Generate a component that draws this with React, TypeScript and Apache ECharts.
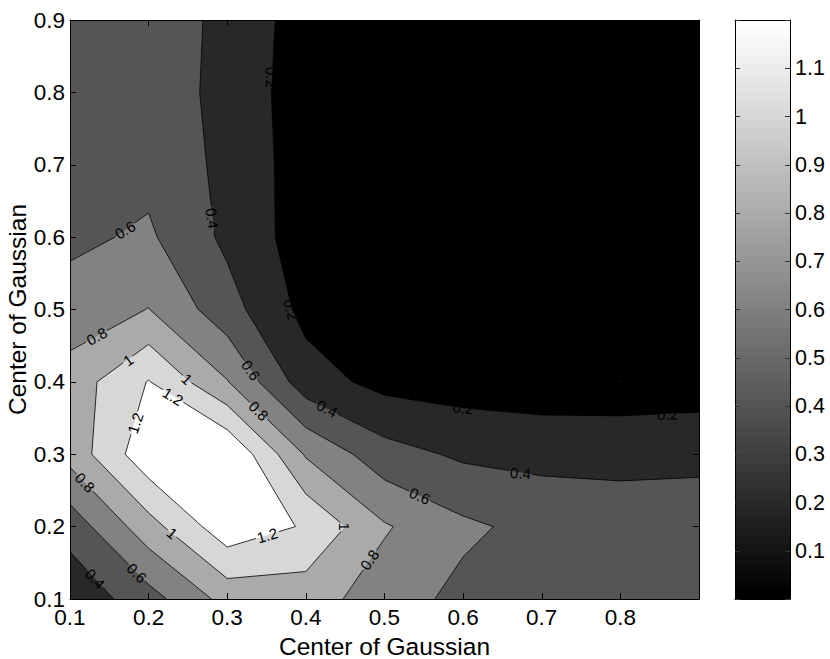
import React, { useEffect, useRef } from "react";
import * as echarts from "echarts";

// Grid of sample positions (both axes)
const gridX = [0.1, 0.2, 0.3, 0.4, 0.5, 0.6, 0.7, 0.8, 0.9];
const gridY = [0.1, 0.2, 0.3, 0.4, 0.5, 0.6, 0.7, 0.8, 0.9];

// Sampled surface values, one row per y (x = 0.1 ... 0.9)
const zAtY01 = [0.25, 0.52, 0.87, 0.89, 0.7, 0.544, 0.5, 0.48, 0.48];
const zAtY02 = [0.48, 0.92, 1.33, 1.18, 0.82, 0.64, 0.536, 0.52, 0.52];
const zAtY03 = [0.87, 1.34, 1.4, 0.78, 0.48, 0.367, 0.342, 0.33, 0.344];
const zAtY04 = [0.89, 1.21, 0.81, 0.29, 0.137, 0.106, 0.08, 0.085, 0.096];
const zAtY05 = [0.68, 0.805, 0.48, 0.14, 0.06, 0.04, 0.03, 0.03, 0.04];
const zAtY06 = [0.56, 0.63, 0.357, 0.1, 0.04, 0.02, 0.01, 0.01, 0.02];
const zAtY07 = [0.52, 0.54, 0.35, 0.1, 0.03, 0.01, 0.0, 0.0, 0.01];
const zAtY08 = [0.5, 0.53, 0.33, 0.098, 0.03, 0.01, 0.0, 0.0, 0.01];
const zAtY09 = [0.5, 0.53, 0.342, 0.11, 0.04, 0.02, 0.01, 0.01, 0.02];
const zRows = [zAtY01, zAtY02, zAtY03, zAtY04, zAtY05, zAtY06, zAtY07, zAtY08, zAtY09];

const contourLevels = [0.2, 0.4, 0.6, 0.8, 1.0, 1.2];
const colorMin = 0;
const colorMax = 1.2;

// inline contour labels
const labelText = ["0.2", "0.2", "0.2", "0.2", "0.4", "0.4", "0.4", "0.4", "0.6", "0.6", "0.6", "0.6",
  "0.8", "0.8", "0.8", "0.8", "1", "1", "1", "1", "1.2", "1.2", "1.2"];
const labelX = [0.356, 0.381, 0.6, 0.86, 0.281, 0.427, 0.673, 0.132, 0.17, 0.33, 0.545, 0.185,
  0.134, 0.34, 0.119, 0.481, 0.174, 0.249, 0.23, 0.449, 0.231, 0.183, 0.351];
const labelY = [0.821, 0.5, 0.364, 0.355, 0.626, 0.363, 0.274, 0.128, 0.61, 0.416, 0.2425, 0.136,
  0.463, 0.36, 0.261, 0.154, 0.43, 0.404, 0.191, 0.2, 0.38, 0.343, 0.188];
const labelAngle = [-88, -75, -6, 2, -83, -27, -3, -47, 31, -56, -25, -45,
  29, -44, -46, 55, 35, -43, -40, -90, -31, 72, 16];

const colorbarTicks = [0.1, 0.2, 0.3, 0.4, 0.5, 0.6, 0.7, 0.8, 0.9, 1.0, 1.1];
const colormapSize = 64;

const axisTitle = "Center of Gaussian";

const FONT = "'Liberation Sans', Arial, Helvetica, sans-serif";

// compound polygon shape: many sub-polygons in one path (no seams between cells)
const MultiPoly = (echarts as any).graphic.extendShape({
  shape: { polys: [] as number[][][] },
  buildPath(ctx: any, shape: any) {
    const polys = shape.polys || [];
    for (const poly of polys) {
      if (!poly || poly.length < 3) continue;
      ctx.moveTo(poly[0][0], poly[0][1]);
      for (let k = 1; k < poly.length; k++) ctx.lineTo(poly[k][0], poly[k][1]);
      ctx.closePath();
    }
  },
});
(echarts as any).graphic.registerShape("multiPoly", MultiPoly);

function grayOf(v: number): string {
  let idx = Math.floor(((v - colorMin) / (colorMax - colorMin)) * colormapSize);
  if (idx > colormapSize - 1) idx = colormapSize - 1;
  if (idx < 0) idx = 0;
  const g = Math.round((idx / (colormapSize - 1)) * 255);
  return `rgb(${g},${g},${g})`;
}

type P = [number, number, number, boolean];

function clipAbove(poly: P[], level: number): P[] {
  const out: P[] = [];
  const n = poly.length;
  for (let k = 0; k < n; k++) {
    const a = poly[k];
    const b = poly[(k + 1) % n];
    const aIn = a[2] >= level;
    const bIn = b[2] >= level;
    if (aIn) out.push(a);
    if (aIn !== bIn) {
      const t = (level - a[2]) / (b[2] - a[2]);
      out.push([a[0] + t * (b[0] - a[0]), a[1] + t * (b[1] - a[1]), level, true]);
    }
  }
  return out;
}

function cellPoly(i: number, j: number): P[] {
  return [
    [gridX[i], gridY[j], zRows[j][i], false],
    [gridX[i + 1], gridY[j], zRows[j][i + 1], false],
    [gridX[i + 1], gridY[j + 1], zRows[j + 1][i + 1], false],
    [gridX[i], gridY[j + 1], zRows[j + 1][i], false],
  ];
}

function textWidth(t: string, size: number): number {
  let w = 0;
  for (const ch of t) w += ch === "." ? 0.278 : 0.556;
  return w * size;
}

const cellData: number[][] = [];
for (let j = 0; j < gridY.length - 1; j++) {
  for (let i = 0; i < gridX.length - 1; i++) {
    cellData.push([gridX[i], gridY[j], i, j]);
  }
}
const labelData = labelX.map((x, k) => [x, labelY[k]]);

const LABEL_SIZE = 15;

export default function App() {
  const ref = useRef<HTMLDivElement>(null);
  useEffect(() => {
    if (!ref.current) return;
    const chart = echarts.init(ref.current, undefined, { renderer: "svg" });

    const fillRender = (params: any, api: any) => {
      const children: any[] = [];
      const toPts = (ps: P[]) => ps.map((p) => api.coord([p[0], p[1]]));
      const allLevels = [-Infinity, ...contourLevels];
      allLevels.forEach((L) => {
        const polys: number[][][] = [];
        for (let j = 0; j < gridY.length - 1; j++) {
          for (let i = 0; i < gridX.length - 1; i++) {
            const poly = cellPoly(i, j);
            const c = L === -Infinity ? poly : clipAbove(poly, L);
            if (c.length >= 3) polys.push(toPts(c));
          }
        }
        if (polys.length) {
          children.push({
            type: "multiPoly",
            shape: { polys },
            style: { fill: grayOf(L === -Infinity ? colorMin : L), stroke: null },
          });
        }
      });
      return { type: "group", children };
    };

    const lineRender = (params: any, api: any) => {
      const i = api.value(2);
      const j = api.value(3);
      const poly = cellPoly(i, j);
      const children: any[] = [];
      const holesAll = labelText.map((t, k) => {
        const c = api.coord([labelX[k], labelY[k]]);
        return { level: parseFloat(t), cx: c[0], cy: c[1], r: textWidth(t, LABEL_SIZE) / 2 + 1.5 };
      });
      contourLevels.forEach((L) => {
        const c = clipAbove(poly, L);
        const n = c.length;
        if (n < 3) return;
        const holes = holesAll.filter((h) => Math.abs(h.level - L) < 1e-6);
        for (let k = 0; k < n; k++) {
          const a = c[k];
          const b = c[(k + 1) % n];
          if (!(a[3] && b[3])) continue;
          const pa = api.coord([a[0], a[1]]);
          const pb = api.coord([b[0], b[1]]);
          let keep: number[][] = [[0, 1]];
          const dx = pb[0] - pa[0];
          const dy = pb[1] - pa[1];
          holes.forEach((h) => {
            const fx = pa[0] - h.cx;
            const fy = pa[1] - h.cy;
            const A = dx * dx + dy * dy;
            if (A < 1e-9) return;
            const B = 2 * (fx * dx + fy * dy);
            const C = fx * fx + fy * fy - h.r * h.r;
            const disc = B * B - 4 * A * C;
            if (disc <= 0) return;
            const s = Math.sqrt(disc);
            const t1 = (-B - s) / (2 * A);
            const t2 = (-B + s) / (2 * A);
            const nk: number[][] = [];
            keep.forEach(([u, v]) => {
              if (t2 <= u || t1 >= v) nk.push([u, v]);
              else {
                if (t1 > u) nk.push([u, t1]);
                if (t2 < v) nk.push([t2, v]);
              }
            });
            keep = nk;
          });
          keep.forEach(([u, v]) => {
            children.push({
              type: "line",
              shape: {
                x1: pa[0] + u * dx,
                y1: pa[1] + u * dy,
                x2: pa[0] + v * dx,
                y2: pa[1] + v * dy,
              },
              style: { stroke: "#000", lineWidth: 0.8 },
            });
          });
        }
      });
      return { type: "group", children };
    };

    const labelRender = (params: any, api: any) => {
      const k = params.dataIndex;
      const c = api.coord([api.value(0), api.value(1)]);
      return {
        type: "text",
        x: c[0],
        y: c[1],
        rotation: (labelAngle[k] * Math.PI) / 180,
        style: {
          text: labelText[k],
          fill: "#000",
          font: `${LABEL_SIZE}px ${FONT}`,
          align: "center",
          verticalAlign: "middle",
        },
      };
    };

    const colorbarRender = (params: any, api: any) => {
      const children: any[] = [];
      const step = (colorMax - colorMin) / colormapSize;
      const pTop = api.coord([0, colorMax]);
      for (let k = 0; k < colormapSize; k++) {
        const lo = colorMin + k * step;
        const p0 = api.coord([0, lo]);
        const p1 = api.coord([1, lo]);
        const g = Math.round((k / (colormapSize - 1)) * 255);
        const col = `rgb(${g},${g},${g})`;
        // each band reaches up to the top; later (lighter) bands paint over the upper part
        children.push({
          type: "rect",
          shape: { x: p0[0], y: pTop[1], width: p1[0] - p0[0], height: p0[1] - pTop[1] },
          style: { fill: col, stroke: null },
        });
      }
      return { type: "group", children };
    };

    const mainTick = { show: true, inside: true, length: 6, lineStyle: { color: "#000", width: 1 } };
    const blackLine = { show: true, onZero: false, lineStyle: { color: "#000", width: 1 } };
    const fmt1 = (v: number) => {
      const r = Math.round(v * 10) / 10;
      return String(r);
    };

    const option: any = {
      animation: false,
      backgroundColor: "#ffffff",
      textStyle: { fontFamily: FONT },
      grid: [
        { left: 70, top: 20, width: 629, height: 579, containLabel: false, outerBoundsMode: "none" },
        { left: 735, top: 20, width: 55, height: 579, containLabel: false, outerBoundsMode: "none" },
      ],
      graphic: [
        {
          type: "text",
          x: 17,
          y: 309.5,
          rotation: Math.PI / 2,
          style: {
            text: axisTitle,
            fill: "#000",
            font: `24.5px ${FONT}`,
            align: "center",
            verticalAlign: "middle",
          },
        },
      ],
      xAxis: [
        {
          type: "value", gridIndex: 0, min: 0.1, max: 0.9, interval: 0.1, position: "bottom", z: 10,
          axisLine: blackLine, axisTick: mainTick, splitLine: { show: false },
          axisLabel: {
            show: true, margin: 7, fontSize: 22.5, color: "#000", fontFamily: FONT,
            showMinLabel: true, showMaxLabel: true,
            formatter: (v: number) => (v > 0.85 ? "" : fmt1(v)),
          },
          name: axisTitle, nameLocation: "middle", nameGap: 32,
          nameTextStyle: { fontSize: 24.5, color: "#000", fontFamily: FONT },
        },
        {
          type: "value", gridIndex: 0, min: 0.1, max: 0.9, interval: 0.1, position: "top", z: 10,
          axisLine: blackLine, axisTick: mainTick, splitLine: { show: false }, axisLabel: { show: false },
        },
        {
          type: "value", gridIndex: 1, min: 0, max: 1, position: "bottom", z: 10,
          axisLine: blackLine, axisTick: { show: false }, splitLine: { show: false }, axisLabel: { show: false },
        },
        {
          type: "value", gridIndex: 1, min: 0, max: 1, position: "top", z: 10,
          axisLine: blackLine, axisTick: { show: false }, splitLine: { show: false }, axisLabel: { show: false },
        },
      ],
      yAxis: [
        {
          type: "value", gridIndex: 0, min: 0.1, max: 0.9, interval: 0.1, position: "left", z: 10,
          axisLine: blackLine, axisTick: mainTick, splitLine: { show: false },
          axisLabel: {
            show: true, margin: 5, fontSize: 22.5, color: "#000", fontFamily: FONT,
            showMinLabel: true, showMaxLabel: true,
            formatter: (v: number) => fmt1(v),
          },
        },
        {
          type: "value", gridIndex: 0, min: 0.1, max: 0.9, interval: 0.1, position: "right", z: 10,
          axisLine: blackLine, axisTick: mainTick, splitLine: { show: false }, axisLabel: { show: false },
        },
        {
          type: "value", gridIndex: 1, min: 0, max: colorMax, interval: 0.1, position: "left", z: 10,
          axisLine: blackLine,
          axisTick: { show: true, inside: true, length: 5, lineStyle: { color: "#333" } },
          splitLine: { show: false }, axisLabel: { show: false },
        },
        {
          type: "value", gridIndex: 1, min: 0, max: colorMax, interval: 0.1, position: "right", z: 10,
          axisLine: blackLine,
          axisTick: { show: true, inside: true, length: 5, lineStyle: { color: "#333" } },
          splitLine: { show: false },
          axisLabel: {
            show: true, margin: 5, fontSize: 21.5, color: "#000", fontFamily: FONT,
            formatter: (v: number) => {
              const hit = colorbarTicks.find((t) => Math.abs(t - v) < 1e-6);
              return hit === undefined ? "" : fmt1(hit);
            },
          },
        },
      ],
      series: [
        {
          type: "custom", xAxisIndex: 0, yAxisIndex: 0, coordinateSystem: "cartesian2d",
          renderItem: fillRender, data: [[0.5, 0.5]], clip: true, z: 1, silent: true,
        },
        {
          type: "custom", xAxisIndex: 0, yAxisIndex: 0, coordinateSystem: "cartesian2d",
          renderItem: lineRender, data: cellData, clip: true, z: 2, silent: true,
        },
        {
          type: "custom", xAxisIndex: 0, yAxisIndex: 0, coordinateSystem: "cartesian2d",
          renderItem: labelRender, data: labelData, clip: true, z: 3, silent: true,
        },
        {
          type: "custom", xAxisIndex: 2, yAxisIndex: 2, coordinateSystem: "cartesian2d",
          renderItem: colorbarRender, data: [[0.5, 0.6]], clip: true, z: 1, silent: true,
        },
      ],
    };
    chart.setOption(option);
    return () => chart.dispose();
  }, []);

  return (
    <div
      ref={ref}
      style={{ position: "fixed", left: 0, top: 0, width: 830, height: 659, background: "#fff" }}
    />
  );
}
